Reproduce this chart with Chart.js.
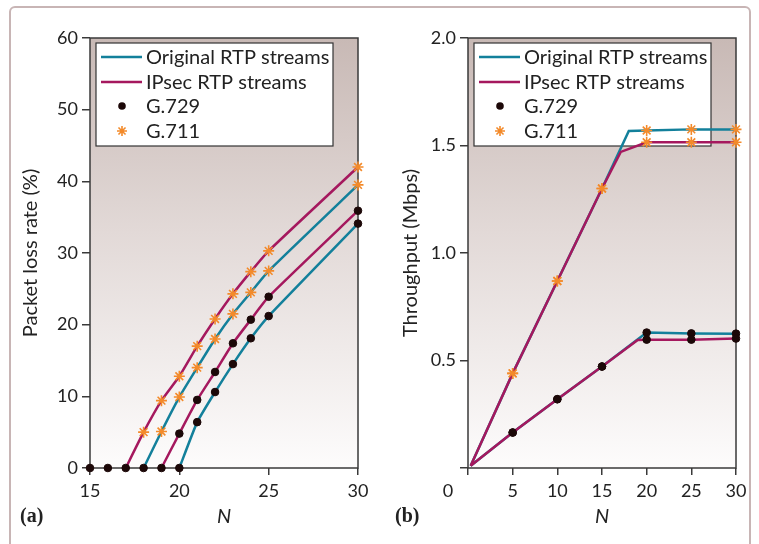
<!DOCTYPE html>
<html>
<head>
<meta charset="utf-8">
<script src="https://cdn.jsdelivr.net/npm/chart.js@4.4.1/dist/chart.umd.min.js"></script>
<style>
  html, body { margin: 0; padding: 0; background: #fff; }
  #wrap { position: relative; width: 759px; height: 544px; overflow: hidden; }
  #frame {
    position: absolute; left: 9px; top: 6px; width: 742px; height: 560px;
    border: 2px solid #c8b5b5; border-radius: 6px; box-sizing: border-box;
  }
  #boxA { position: absolute; left: 0; top: 0; width: 380px; height: 544px; }
  #boxB { position: absolute; left: 380px; top: 0; width: 379px; height: 544px; }
</style>
</head>
<body>
<div id="wrap">
  <div id="frame"></div>
  <div id="boxA"><canvas id="chartA"></canvas></div>
  <div id="boxB"><canvas id="chartB"></canvas></div>
</div>
<script>
// (a) packet loss rate vs N
const zeroNA = [15, 16, 17, 18, 19, 20];
const zeroA = [0, 0, 0, 0, 0, 0];
const nIpsec711A = [17, 18, 19, 20, 21, 22, 23, 24, 25, 30];
const ipsec711A = [0, 5.0, 9.4, 12.8, 17.0, 20.8, 24.3, 27.4, 30.3, 42.0];
const nOrig711A = [18, 19, 20, 21, 22, 23, 24, 25, 30];
const orig711A = [0, 5.1, 9.9, 14.0, 18.0, 21.5, 24.5, 27.5, 39.5];
const nIpsec729A = [19, 20, 21, 22, 23, 24, 25, 30];
const ipsec729A = [0, 4.8, 9.5, 13.4, 17.4, 20.7, 23.9, 35.9];
const nOrig729A = [20, 21, 22, 23, 24, 25, 30];
const orig729A = [0, 6.4, 10.6, 14.5, 18.1, 21.2, 34.1];

// (b) throughput vs N
const nOrig711B = [0.3, 5, 10, 15, 18, 20, 25, 30];
const orig711B = [0.01, 0.44, 0.87, 1.30, 1.567, 1.57, 1.575, 1.575];
const nIpsec711B = [0.3, 5, 10, 15, 17.1, 20, 25, 30];
const ipsec711B = [0.01, 0.44, 0.87, 1.30, 1.47, 1.515, 1.515, 1.515];
const nOrig729B = [0.3, 5, 10, 15, 20, 25, 30];
const orig729B = [0.01, 0.165, 0.32, 0.472, 0.63, 0.626, 0.625];
const nIpsec729B = [0.3, 5, 10, 15, 19, 20, 25, 30];
const ipsec729B = [0.01, 0.165, 0.32, 0.472, 0.595, 0.597, 0.597, 0.602];

const legendLabels = ['Original RTP streams', 'IPsec RTP streams', 'G.729', 'G.711'];

const TEAL = '#13809b';
const MAGENTA = '#a5185e';
const ORANGE = '#f38a2a';
const DOT = '#1c0808';
const AXIS = '#3a3a3a';
const FONT = 'Lato, "Open Sans", sans-serif';
const TICK_FONT = {family: FONT, size: 18};

function pts(xs, ys) {
  return xs.map((x, i) => ({x: x, y: ys[i]}));
}

function lineSet(xs, ys, color, marker, showMark) {
  const isStar = marker === 'star';
  return {
    data: pts(xs, ys),
    borderColor: color,
    borderWidth: 2.5,
    pointStyle: isStar ? 'star' : 'circle',
    pointBackgroundColor: isStar ? ORANGE : DOT,
    pointBorderColor: isStar ? ORANGE : DOT,
    pointBorderWidth: isStar ? 1.6 : 1,
    pointRadius: ctx => showMark(ctx.raw) ? (isStar ? 5.5 : 3.8) : 0,
    pointHoverRadius: 0
  };
}

function drawStar(ctx, x, y, r) {
  ctx.save();
  ctx.strokeStyle = ORANGE;
  ctx.lineWidth = 1.6;
  ctx.beginPath();
  for (let k = 0; k < 4; k++) {
    const a = k * Math.PI / 4;
    ctx.moveTo(x - r * Math.cos(a), y - r * Math.sin(a));
    ctx.lineTo(x + r * Math.cos(a), y + r * Math.sin(a));
  }
  ctx.stroke();
  ctx.restore();
}

// gradient background, plot frame and legend box, all under the data
const framePlugin = {
  id: 'framePlugin',
  beforeDatasetsDraw(chart) {
    const {ctx, chartArea: a} = chart;
    ctx.save();
    ctx.strokeStyle = AXIS;
    ctx.lineWidth = 1.5;
    ctx.strokeRect(a.left, a.top, a.right - a.left, a.bottom - a.top);

    // legend
    const lx = a.left + 6, ly = a.top + 5, lw = 237, lh = 103;
    ctx.fillStyle = '#ffffff';
    ctx.fillRect(lx, ly, lw, lh);
    ctx.strokeStyle = '#333';
    ctx.lineWidth = 1.2;
    ctx.strokeRect(lx, ly, lw, lh);
    const rows = [19, 44, 68, 93];
    ctx.font = '20px ' + FONT;
    ctx.textBaseline = 'middle';
    ctx.textAlign = 'left';
    legendLabels.forEach((t, i) => {
      const ry = a.top + rows[i];
      if (i < 2) {
        ctx.strokeStyle = i === 0 ? TEAL : MAGENTA;
        ctx.lineWidth = 2.5;
        ctx.beginPath();
        ctx.moveTo(a.left + 11, ry);
        ctx.lineTo(a.left + 52, ry);
        ctx.stroke();
      } else if (i === 2) {
        ctx.fillStyle = DOT;
        ctx.beginPath();
        ctx.arc(a.left + 32, ry, 3.8, 0, Math.PI * 2);
        ctx.fill();
      } else {
        drawStar(ctx, a.left + 32, ry, 5);
      }
      ctx.fillStyle = '#222';
      ctx.fillText(t, a.left + 56, ry + 1);
    });
    ctx.restore();
  },
  beforeDraw(chart) {
    const {ctx, chartArea: a} = chart;
    const g = ctx.createLinearGradient(0, a.top, 0, a.bottom);
    g.addColorStop(0, '#c8b9b5');
    g.addColorStop(0.45, '#e2d9d7');
    g.addColorStop(1, '#fdfcfc');
    ctx.save();
    ctx.fillStyle = g;
    ctx.fillRect(a.left, a.top, a.right - a.left, a.bottom - a.top);
    ctx.restore();
  },
  afterDraw(chart, args, opts) {
    const {ctx} = chart;
    ctx.save();
    if (opts.panel) {
      ctx.font = 'bold 20px "Liberation Serif", "DejaVu Serif", serif';
      ctx.fillStyle = '#222';
      ctx.textAlign = 'left';
      ctx.textBaseline = 'middle';
      ctx.fillText(opts.panel, opts.panelX, 517);
    }
    if (opts.cornerZero) {
      const xs = chart.scales.x;
      ctx.font = '18px ' + FONT;
      ctx.fillStyle = '#222';
      ctx.textAlign = 'center';
      ctx.textBaseline = 'middle';
      ctx.fillText('0', xs.getPixelForValue(0) - 20, 491);
    }
    ctx.restore();
  }
};

function baseScales(yWidth, xOpts, yOpts, yTitle) {
  return {
    x: Object.assign({
      type: 'linear',
      border: {display: false},
      grid: {drawOnChartArea: false, drawTicks: true, tickLength: 7, color: AXIS, lineWidth: 1.5},
      title: {display: true, text: 'N', font: {family: FONT, size: 20, style: 'italic'}, color: '#222', padding: {bottom: 15}},
      afterFit: s => { s.height = 76; }
    }, xOpts),
    y: Object.assign({
      border: {display: false},
      grid: {drawOnChartArea: false, drawTicks: true, tickLength: 8, color: AXIS, lineWidth: 1.5},
      title: {display: true, text: yTitle, font: {family: FONT, size: 20}, color: '#222', padding: {top: 19}},
      afterFit: s => { s.width = yWidth; }
    }, yOpts)
  };
}

const common = {
  responsive: true,
  maintainAspectRatio: false,
  animation: false,
  events: [],
  plugins: {legend: {display: false}, tooltip: {enabled: false}}
};

const nonZero = r => r.y !== 0;

new Chart(document.getElementById('chartA'), {
  type: 'line',
  data: {
    datasets: [
      Object.assign(lineSet(zeroNA, zeroA, DOT, 'circle', () => true), {showLine: false}),
      Object.assign(lineSet(nIpsec711A, ipsec711A, MAGENTA, 'star', nonZero), {tension: 0.15}),
      Object.assign(lineSet(nOrig711A, orig711A, TEAL, 'star', nonZero), {tension: 0.15}),
      Object.assign(lineSet(nIpsec729A, ipsec729A, MAGENTA, 'circle', nonZero), {tension: 0.15}),
      Object.assign(lineSet(nOrig729A, orig729A, TEAL, 'circle', nonZero), {tension: 0.15})
    ]
  },
  options: Object.assign({}, common, {
    layout: {padding: {left: 0, top: 38, right: 22, bottom: 0}},
    clip: false,
    scales: baseScales(90,
      {min: 15, max: 30, ticks: {font: TICK_FONT, color: '#222', padding: 5, stepSize: 5, maxRotation: 0}},
      {min: 0, max: 60, ticks: {font: TICK_FONT, color: '#222', padding: 4, stepSize: 10}},
      'Packet loss rate (%)'),
    plugins: Object.assign({}, common.plugins, {framePlugin: {panel: '(a)', panelX: 20}})
  }),
  plugins: [framePlugin]
});

const onFive = r => r.x > 0 && r.x % 5 === 0;

new Chart(document.getElementById('chartB'), {
  type: 'line',
  data: {
    datasets: [
      lineSet(nIpsec711B, ipsec711B, MAGENTA, 'star', onFive),
      lineSet(nIpsec729B, ipsec729B, MAGENTA, 'circle', onFive),
      lineSet(nOrig711B, orig711B, TEAL, 'star', onFive),
      lineSet(nOrig729B, orig729B, TEAL, 'circle', onFive)
    ]
  },
  options: Object.assign({}, common, {
    layout: {padding: {left: 0, top: 38, right: 23, bottom: 0}},
    clip: false,
    scales: baseScales(88,
      {min: 0, max: 30, ticks: {font: TICK_FONT, color: '#222', padding: 5, stepSize: 5, maxRotation: 0,
        callback: v => v === 0 ? '' : String(v)}},
      {min: 0, max: 2, ticks: {font: TICK_FONT, color: '#222', padding: 4, stepSize: 0.5,
        callback: v => v === 0 ? '' : v.toFixed(1)}},
      'Throughput (Mbps)'),
    plugins: Object.assign({}, common.plugins, {framePlugin: {panel: '(b)', panelX: 15, cornerZero: true}})
  }),
  plugins: [framePlugin]
});
</script>
</body>
</html>
